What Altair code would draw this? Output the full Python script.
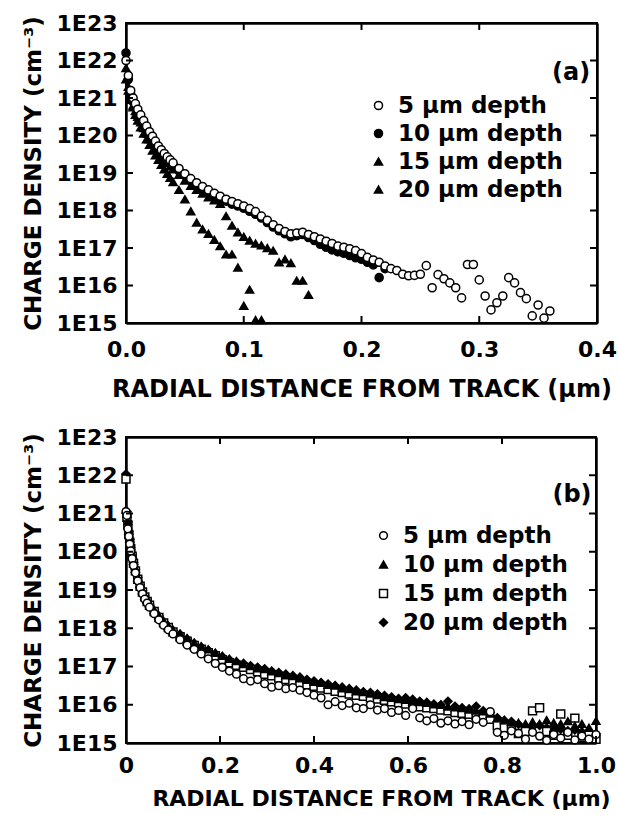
import altair as alt
import pandas as pd

# ---------------- panel (a) ----------------
xa = [0.000, 0.002, 0.004, 0.006, 0.008, 0.010, 0.0125, 0.015, 0.0175, 0.020,
      0.0225, 0.025, 0.0275, 0.030, 0.0325, 0.035, 0.0375, 0.040, 0.045, 0.050,
      0.055, 0.060, 0.065, 0.070, 0.075, 0.080, 0.085, 0.090, 0.095, 0.100,
      0.105, 0.110, 0.115, 0.120, 0.125, 0.130, 0.135, 0.140, 0.145, 0.150,
      0.155, 0.160, 0.165, 0.170, 0.175, 0.180, 0.185, 0.190, 0.195, 0.200,
      0.205, 0.210, 0.215, 0.220, 0.225, 0.230, 0.235, 0.240, 0.245, 0.250,
      0.255, 0.260, 0.265, 0.270, 0.275, 0.280, 0.285, 0.290, 0.295, 0.300,
      0.305, 0.310, 0.315, 0.320, 0.325, 0.330, 0.335, 0.340, 0.345, 0.350,
      0.355, 0.360]
# log10 of charge density (cm^-3)
a5 = [22.0, 21.6, 21.2, 21.0, 20.85, 20.7, 20.55, 20.4, 20.25, 20.1,
      19.98, 19.85, 19.72, 19.62, 19.52, 19.43, 19.35, 19.27, 19.12, 18.98,
      18.85, 18.74, 18.64, 18.55, 18.46, 18.38, 18.30, 18.24, 18.18, 18.12,
      18.05, 17.97, 17.85, 17.74, 17.62, 17.52, 17.44, 17.38, 17.40, 17.42,
      17.36, 17.30, 17.24, 17.18, 17.12, 17.05, 17.02, 16.98, 16.93, 16.85,
      16.75, 16.68, 16.62, 16.52, 16.45, 16.40, 16.30, 16.26, 16.27, 16.30,
      16.53, 15.94, 16.29, 16.18, 16.07, 15.94, 15.67, 16.56, 16.56, 16.15,
      15.72, 15.35, 15.54, 15.72, 16.21, 16.07, 15.81, 15.65, 15.19, 15.48,
      15.13, 15.32]
a10 = [22.2, 21.5, 21.1, 20.9, 20.75, 20.62, 20.48, 20.33, 20.2, 20.05,
       19.92, 19.8, 19.68, 19.57, 19.47, 19.38, 19.3, 19.22, 19.06, 18.93,
       18.8, 18.68, 18.58, 18.5, 18.42, 18.33, 18.25, 18.17, 18.12, 18.06,
       17.98, 17.9, 17.8, 17.68, 17.56, 17.46, 17.38, 17.3, 17.33, 17.36,
       17.28, 17.2, 17.1, 17.02, 16.95, 16.9, 16.86, 16.8, 16.74, 16.7,
       16.62, 16.55, 16.21, 16.45]
a15 = [21.8, 21.3, 21.0, 20.8, 20.65, 20.5, 20.35, 20.2, 20.05, 19.9,
       19.78, 19.65, 19.55, 19.45, 19.35, 19.27, 19.18, 19.1, 18.95, 18.8,
       18.66, 18.55, 18.45, 18.35, 18.27, 18.18, 17.85, 17.6, 17.42, 17.3,
       17.2, 17.12, 17.07, 17.0, 16.93, 16.62, 16.7, 16.6, 16.13, 16.13,
       15.75]
a20 = [21.5, 21.2, 20.95, 20.75, 20.55, 20.4, 20.22, 20.05, 19.9, 19.75,
       19.6, 19.47, 19.35, 19.22, 19.1, 18.98, 18.87, 18.76, 18.55, 18.3,
       17.98, 17.68, 17.5, 17.38, 17.22, 17.05, 16.83, 16.83, 16.48, 15.46,
       15.89, 15.08, 15.08]
labels_a = ["5 μm depth", "10 μm depth", "15 μm depth", "20 μm depth"]

# ---------------- panel (b) ----------------
xb = [0.000, 0.002, 0.004, 0.006, 0.008, 0.010, 0.013, 0.016, 0.020, 0.025,
      0.030, 0.035, 0.040, 0.045, 0.050, 0.060, 0.070, 0.080, 0.090, 0.100,
      0.115, 0.130, 0.145, 0.160, 0.175, 0.190, 0.205, 0.220, 0.235, 0.250,
      0.265, 0.280, 0.295, 0.310, 0.325, 0.340, 0.355, 0.370, 0.385, 0.400,
      0.415, 0.430, 0.445, 0.460, 0.475, 0.490, 0.505, 0.520, 0.535, 0.550,
      0.565, 0.580, 0.595, 0.610, 0.625, 0.640, 0.655, 0.670, 0.685, 0.700,
      0.715, 0.730, 0.745, 0.760, 0.775, 0.790, 0.805, 0.820, 0.835, 0.850,
      0.865, 0.880, 0.895, 0.910, 0.925, 0.940, 0.955, 0.970, 0.985, 1.000]
b5 = [21.05, 20.95, 20.6, 20.4, 20.2, 20.02, 19.82, 19.64, 19.45, 19.24,
      19.06, 18.9, 18.76, 18.66, 18.55, 18.38, 18.22, 18.08, 17.96, 17.85,
      17.7, 17.56, 17.45, 17.33, 17.2, 17.08, 16.98, 16.88, 16.8, 16.68,
      16.62, 16.66, 16.55, 16.46, 16.5, 16.42, 16.45, 16.38, 16.32, 16.25,
      16.18, 16.0, 16.08, 15.98, 16.04, 15.92, 15.9, 16.0, 15.86, 15.9,
      15.8, 15.85, 15.72, 15.9, 15.66, 15.58, 15.64, 15.52, 15.58, 15.5,
      15.56, 15.48, 15.62, 15.54, 15.82, 15.28, 15.2, 15.32, 15.25, 15.1,
      15.28, 15.18, 15.07, 15.22, 15.13, 15.28, 15.08, 15.18, 15.1, 15.22]
b10 = [21.1, 21.0, 20.8, 20.55, 20.35, 20.15, 19.95, 19.76, 19.56, 19.34,
       19.16, 19.0, 18.86, 18.75, 18.65, 18.48, 18.33, 18.19, 18.07, 17.96,
       17.86, 17.74, 17.62, 17.53, 17.45, 17.36, 17.28, 17.2, 17.14, 17.06,
       17.01, 16.95, 16.93, 16.87, 16.83, 16.77, 16.75, 16.69, 16.65, 16.6,
       16.57, 16.52, 16.5, 16.43, 16.41, 16.35, 16.33, 16.29, 16.25, 16.2,
       16.18, 16.15, 16.13, 16.09, 16.07, 16.05, 16.01, 16.0, 15.95, 15.93,
       15.91, 15.87, 15.85, 15.83, 15.77, 15.65, 15.6, 15.55, 15.53, 15.5,
       15.55, 15.5, 15.6, 15.53, 15.5, 15.57, 15.45, 15.5, 15.4, 15.58]
b15 = [21.9, 20.9, 20.7, 20.45, 20.25, 20.08, 19.88, 19.7, 19.5, 19.28,
       19.1, 18.95, 18.82, 18.7, 18.6, 18.44, 18.28, 18.14, 18.02, 17.9,
       17.78, 17.66, 17.55, 17.45, 17.36, 17.28, 17.18, 17.1, 17.03, 16.98,
       16.92, 16.86, 16.8, 16.76, 16.7, 16.66, 16.6, 16.56, 16.52, 16.48,
       16.44, 16.4, 16.35, 16.32, 16.28, 16.25, 16.22, 16.18, 16.15, 16.12,
       16.08, 16.05, 16.02, 15.98, 15.95, 15.92, 15.9, 15.86, 15.84, 15.8,
       15.78, 15.75, 15.72, 15.68, 15.62, 15.45, 15.4, 15.35, 15.25, 15.3,
       15.84, 15.92, 15.3, 15.2, 15.76, 15.2, 15.65, 15.15, 15.2, 15.1]
b20 = [22.03, 21.05, 20.78, 20.52, 20.32, 20.12, 19.92, 19.72, 19.54, 19.32,
       19.14, 18.98, 18.84, 18.74, 18.63, 18.46, 18.32, 18.17, 18.05, 17.94,
       17.84, 17.72, 17.61, 17.51, 17.43, 17.34, 17.26, 17.18, 17.12, 17.08,
       17.02, 16.98, 16.94, 16.88, 16.84, 16.8, 16.76, 16.72, 16.66, 16.62,
       16.58, 16.54, 16.5, 16.46, 16.42, 16.38, 16.34, 16.32, 16.28, 16.24,
       16.2, 16.16, 16.18, 16.14, 16.09, 16.06, 16.02, 16.0, 16.09, 15.96,
       15.92, 15.89, 15.96, 15.84, 15.79, 15.66, 15.59, 15.56, 15.49, 15.44,
       15.42, 15.46, 15.39, 15.34, 15.36, 15.32, 15.34, 15.29, 15.26, 15.24]
labels_b = ["5 μm depth", "10 μm depth", "15 μm depth", "20 μm depth"]

x_ticks_a = [0.0, 0.1, 0.2, 0.3, 0.4]
x_ticks_b = [0.0, 0.2, 0.4, 0.6, 0.8, 1.0]
y_tick_exponents = [15, 16, 17, 18, 19, 20, 21, 22, 23]
y_ticks = [10.0 ** e for e in y_tick_exponents]

FONT = "DejaVu Sans"
TICK_PX = 7


def build_df(xgrid, series, labels):
    rows = []
    # filled series first, open markers last (drawn on top)
    for k in [3, 2, 1, 0]:
        for i, v in enumerate(series[k]):
            rows.append({"x": xgrid[i], "density": 10.0 ** v, "depth": labels[k]})
    return pd.DataFrame(rows)


def panel(df, labels, shapes, fills, sizes, W, H, xdom, xticks, xlabel_expr,
          xlabel_pad, xtitle_size, xtitle_x, xtitle_y, leg_x, leg_y, row_pad,
          tag, tag_x, tag_y):
    xsc = alt.Scale(domain=xdom, nice=False, zero=False)
    ysc = alt.Scale(type="log", domain=[1e15, 1e23], nice=False)
    legend = alt.Legend(
        orient="none", legendX=leg_x, legendY=leg_y, title=None,
        labelFont=FONT, labelFontSize=23, labelFontWeight="bold",
        labelColor="black", rowPadding=row_pad, labelOffset=8, padding=0,
        labelLimit=500, symbolStrokeWidth=1.5,
    )
    dom = dict(domain=True, domainColor="black", domainWidth=2.5, grid=False)
    pts = alt.Chart(df).mark_point(
        filled=True, stroke="black", strokeWidth=1.5, opacity=1
    ).encode(
        x=alt.X("x:Q", scale=xsc, axis=alt.Axis(
            orient="bottom", values=xticks, labelExpr=xlabel_expr,
            labelFlush=False, labelOverlap=False, ticks=False, tickSize=0,
            labelPadding=xlabel_pad,
            labelBaseline="middle", labelFont=FONT, labelFontSize=22,
            labelFontWeight="bold", labelColor="black",
            title="RADIAL DISTANCE FROM TRACK (μm)", titleFont=FONT,
            titleFontSize=xtitle_size, titleFontWeight="bold",
            titleColor="black", titleX=xtitle_x, titleY=xtitle_y,
            titleAlign="center", titleBaseline="middle", **dom)),
        y=alt.Y("density:Q", scale=ysc, axis=alt.Axis(
            orient="left", values=y_ticks,
            labelExpr="'1E' + round(log(datum.value) / LN10)",
            labelOverlap=False, ticks=False, tickSize=0,
            labelPadding=9, labelFont=FONT, labelFontSize=22,
            labelFontWeight="bold", labelColor="black",
            title="CHARGE DENSITY (cm⁻³)", titleFont=FONT, titleFontSize=23,
            titleFontWeight="bold", titleColor="black", titleX=-93,
            titleY=H / 2, titleAngle=270, titleAlign="center",
            titleBaseline="middle", **dom)),
        shape=alt.Shape("depth:N", scale=alt.Scale(domain=labels, range=shapes), legend=legend),
        fill=alt.Fill("depth:N", scale=alt.Scale(domain=labels, range=fills), legend=legend),
        size=alt.Size("depth:N", scale=alt.Scale(domain=labels, range=sizes), legend=legend),
    )

    # top and right sides of the frame: domain lines of secondary axes
    side = alt.Chart(df).mark_point(opacity=0).encode(
        x=alt.X("x:Q", scale=xsc, axis=alt.Axis(
            orient="top", values=xticks, labels=False, ticks=False,
            title=None, **dom)),
        y=alt.Y("density:Q", scale=ysc, axis=alt.Axis(
            orient="right", values=y_ticks, labels=False, ticks=False,
            title=None, **dom)),
    )

    # inward tick marks on all four sides (length = TICK_PX pixels)
    x0, x1 = xdom
    dx = (x1 - x0) * TICK_PX / W
    dy = 8 * TICK_PX / H  # decades
    xt = pd.DataFrame({"v": xticks})
    yt = pd.DataFrame({"v": y_ticks})
    rule = dict(color="black", strokeWidth=2, opacity=1)
    tick_bottom = alt.Chart(xt).mark_rule(**rule).encode(
        x=alt.X("v:Q", axis=None), y=alt.YDatum(1e15, axis=None), y2=alt.Y2Datum(10 ** (15 + dy)))
    tick_top = alt.Chart(xt).mark_rule(**rule).encode(
        x=alt.X("v:Q", axis=None), y=alt.YDatum(1e23, axis=None), y2=alt.Y2Datum(10 ** (23 - dy)))
    tick_left = alt.Chart(yt).mark_rule(**rule).encode(
        y=alt.Y("v:Q", axis=None), x=alt.XDatum(x0, axis=None), x2=alt.X2Datum(x0 + dx))
    tick_right = alt.Chart(yt).mark_rule(**rule).encode(
        y=alt.Y("v:Q", axis=None), x=alt.XDatum(x1, axis=None), x2=alt.X2Datum(x1 - dx))

    tag_layer = alt.Chart(pd.DataFrame({"t": [tag]})).mark_text(
        font=FONT, fontSize=24, fontWeight="bold", color="black"
    ).encode(
        x=alt.XDatum(tag_x, axis=None),
        y=alt.YDatum(tag_y, axis=None),
        text="t:N",
    )

    return alt.layer(
        pts, side, tick_bottom, tick_top, tick_left, tick_right, tag_layer
    ).resolve_axis(x="independent", y="independent").properties(width=W, height=H)


df_a = build_df(xa, [a5, a10, a15, a20], labels_a)
df_b = build_df(xb, [b5, b10, b15, b20], labels_b)

top = panel(
    df_a, labels_a,
    shapes=["circle", "circle", "triangle-up", "triangle-up"],
    fills=["white", "black", "black", "black"],
    sizes=[65, 65, 75, 40],
    W=471, H=300, xdom=[0, 0.4], xticks=x_ticks_a,
    xlabel_expr="format(datum.value, '.1f')", xlabel_pad=26,
    xtitle_size=24, xtitle_x=235.5, xtitle_y=66,
    leg_x=241, leg_y=71, row_pad=4,
    tag="(a)", tag_x=0.378, tag_y=10 ** 21.67,
)
bottom = panel(
    df_b, labels_b,
    shapes=["circle", "triangle-up", "square", "diamond"],
    fills=["white", "black", "white", "black"],
    sizes=[60, 65, 50, 65],
    W=470, H=306, xdom=[0, 1.0], xticks=x_ticks_b,
    xlabel_expr="datum.value == 0 ? '0' : format(datum.value, '.1f')",
    xlabel_pad=22, xtitle_size=22, xtitle_x=255, xtitle_y=55,
    leg_x=246, leg_y=87, row_pad=5,
    tag="(b)", tag_x=0.949, tag_y=10 ** 21.48,
)

chart = alt.vconcat(top, bottom, spacing=23).resolve_scale(
    x="independent", y="independent", shape="independent",
    fill="independent", size="independent"
).resolve_legend(shape="independent", fill="independent", size="independent").properties(
    padding={"left": 21, "top": 11, "right": 0, "bottom": 0}
).configure(font=FONT).configure_view(stroke="black", strokeWidth=2)

chart.save("out.html", embed_options={"renderer": "svg", "actions": False})
